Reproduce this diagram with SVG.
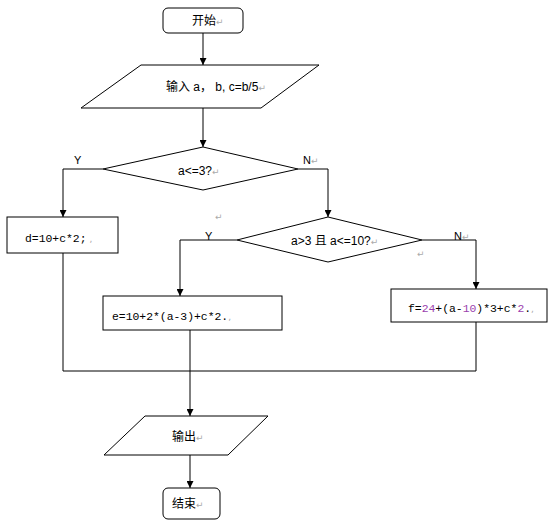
<svg xmlns="http://www.w3.org/2000/svg" width="556" height="525" viewBox="0 0 556 525">
<style>
.shape{fill:#fff;stroke:#000;stroke-width:1}
.line{fill:none;stroke:#000;stroke-width:1}
.cn{font-family:"Liberation Sans","Noto Sans CJK SC",sans-serif;font-size:12px;fill:#000}
.mono{font-family:"Liberation Mono","Noto Sans CJK SC",monospace;font-size:11.4px;fill:#000}
.lbl{font-family:"Liberation Sans",sans-serif;font-size:11px;fill:#000}
.pm{fill:#aaa;font-size:9px;font-family:"DejaVu Sans",sans-serif}
.pur{fill:#9b3fae}
</style>
<defs>
<marker id="arr" viewBox="0 0 10 10" refX="10" refY="5" markerWidth="7" markerHeight="7" markerUnits="userSpaceOnUse" orient="auto">
<path d="M0,0 L10,5 L0,10 z" fill="#000"/>
</marker>
</defs>
<g id="connectors">
<path class="line" d="M203,33 V65" marker-end="url(#arr)"/>
<path class="line" d="M203,108 V147" marker-end="url(#arr)"/>
<path class="line" d="M103,169 H63 V217" marker-end="url(#arr)"/>
<path class="line" d="M298,169 H328 V217" marker-end="url(#arr)"/>
<path class="line" d="M237,240 H180 V296" marker-end="url(#arr)"/>
<path class="line" d="M422,240 H476 V289" marker-end="url(#arr)"/>
<path class="line" d="M63,253 V371 H476 V322"/>
<path class="line" d="M190,330 V416" marker-end="url(#arr)"/>
<path class="line" d="M190,455 V488" marker-end="url(#arr)"/>
<text class="lbl" x="74" y="164">Y</text>
<text class="lbl" x="303" y="164">N<tspan class="pm">↵</tspan></text>
<text class="lbl" x="205" y="240">Y</text>
<text class="lbl" x="454" y="240">N<tspan class="pm">↵</tspan></text>
<text class="pm" x="215" y="220">↵</text>
<text class="pm" x="417" y="257">↵</text>
</g>
<g id="start">
<rect class="shape" x="163" y="8" width="80" height="25" rx="5"/>
<text class="cn" x="192" y="25">开始<tspan class="pm">↵</tspan></text>
</g>
<g id="input">
<polygon class="shape" points="141,65 319,65 261,108 81,108"/>
<text class="cn" x="166" y="91">输入 a， b, c=b/5<tspan class="pm">↵</tspan></text>
</g>
<g id="cond1">
<polygon class="shape" points="203,147 298,169 203,190 103,169"/>
<text class="cn" x="178" y="175" font-size="11">a&lt;=3?<tspan class="pm">↵</tspan></text>
</g>
<g id="boxD">
<rect class="shape" x="7" y="217" width="111" height="36"/>
<text class="mono" x="25" y="242">d=10+c*2;<tspan class="pm"> ,</tspan></text>
</g>
<g id="cond2">
<polygon class="shape" points="328,217 422,240 328,262 237,240"/>
<text class="cn" x="291" y="245" font-size="11">a&gt;3 且 a&lt;=10?<tspan class="pm">↵</tspan></text>
</g>
<g id="boxE">
<rect class="shape" x="103" y="296" width="179" height="34"/>
<text class="mono" x="112" y="320">e=10+2*(a-3)+c*2.<tspan class="pm">,</tspan></text>
</g>
<g id="boxF">
<rect class="shape" x="391" y="289" width="156" height="33"/>
<text class="mono" x="408" y="312">f=<tspan class="pur">24</tspan>+(a-<tspan class="pur">10</tspan>)*3+c*<tspan class="pur">2</tspan>.<tspan class="pm">,</tspan></text>
</g>
<g id="output">
<polygon class="shape" points="145,416 268,416 228,455 104,455"/>
<text class="cn" x="172" y="441">输出<tspan class="pm">↵</tspan></text>
</g>
<g id="end">
<rect class="shape" x="163" y="488" width="57" height="31" rx="5"/>
<text class="cn" x="172" y="508">结束<tspan class="pm">↵</tspan></text>
</g>
</svg>
